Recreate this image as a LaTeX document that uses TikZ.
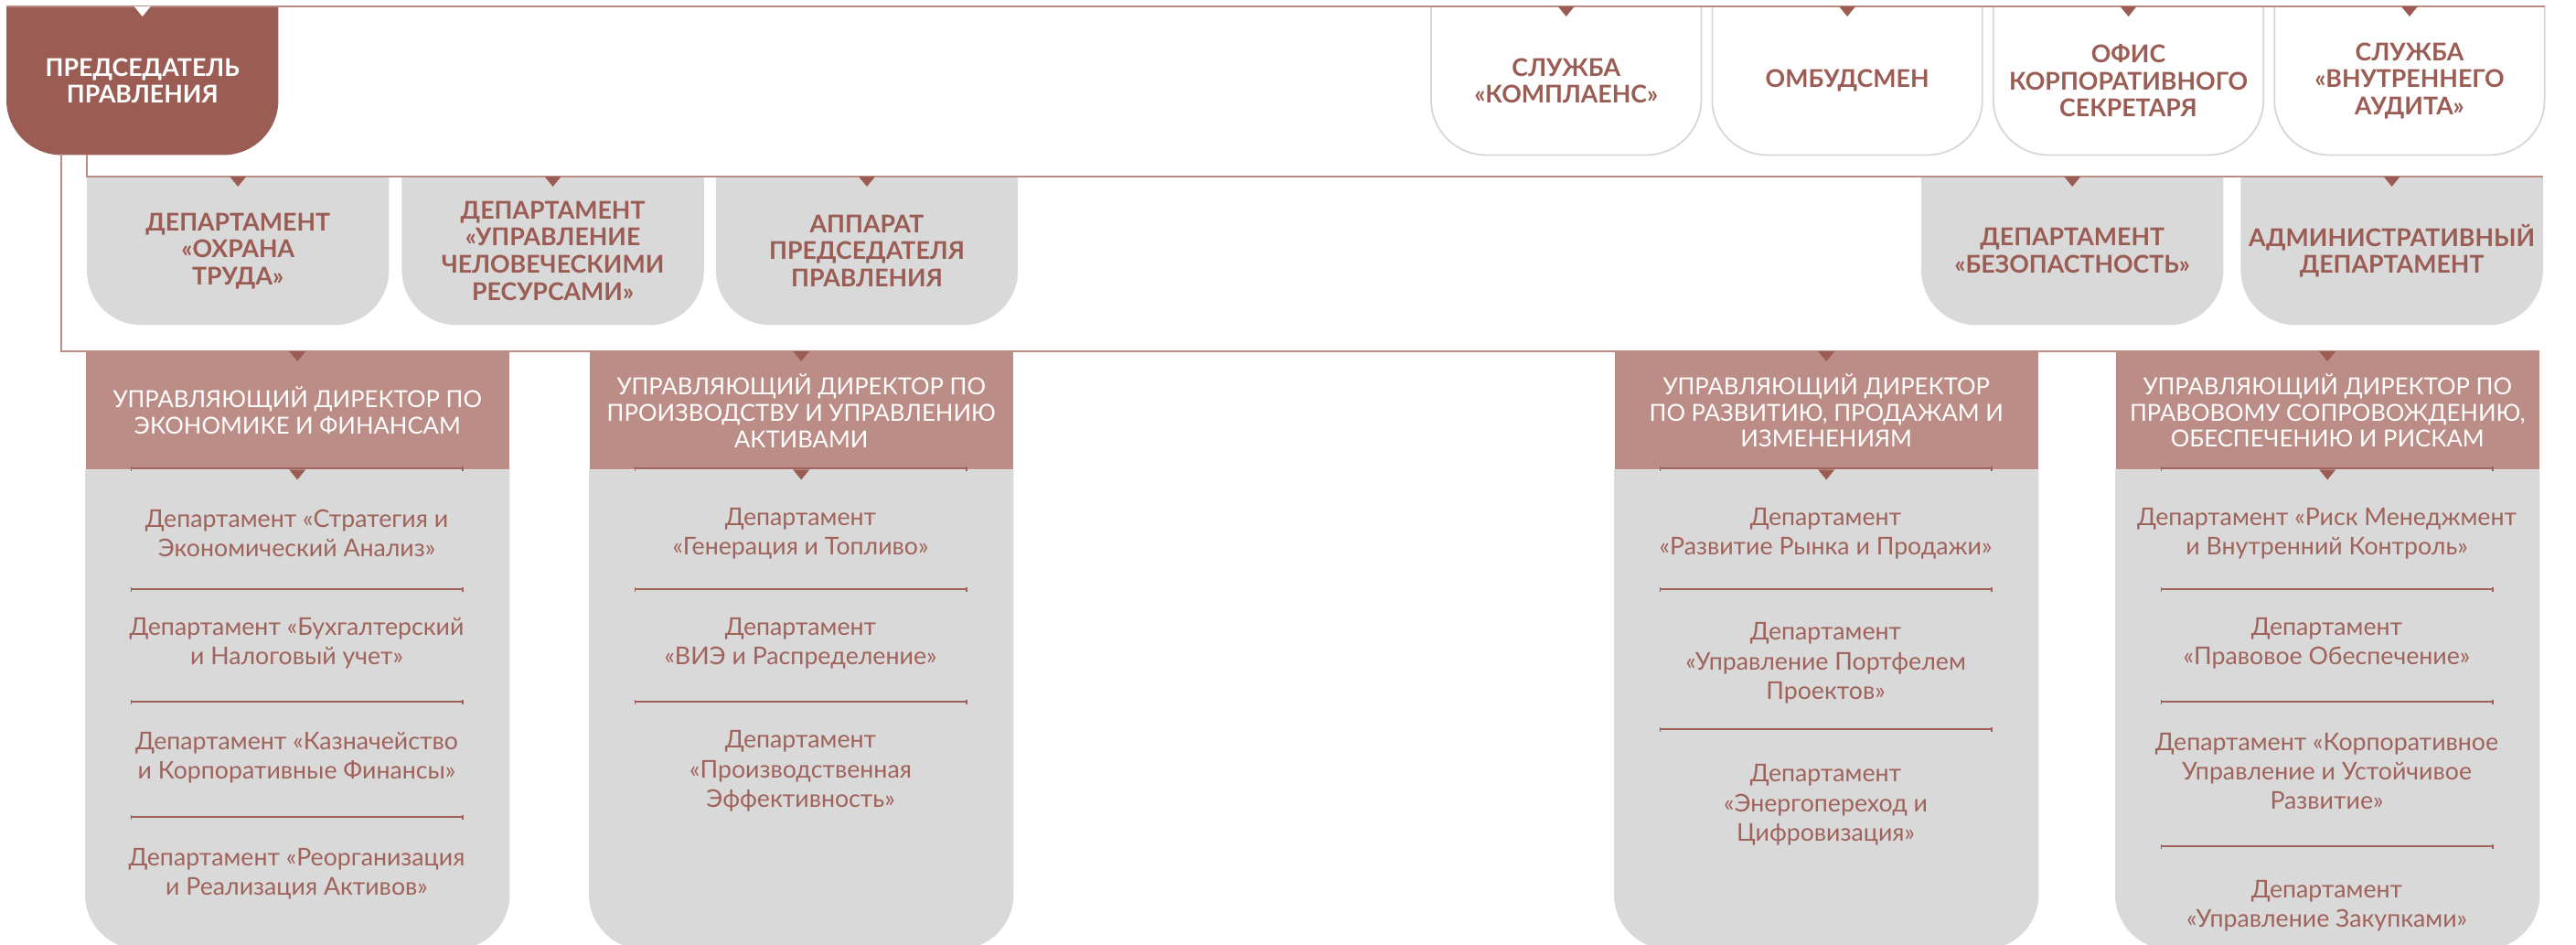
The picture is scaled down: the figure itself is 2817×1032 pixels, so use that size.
\documentclass[tikz,border=0pt]{standalone}
\usepackage{fontspec}
\setmainfont{Lato}
\usepackage{tikz}
\usetikzlibrary{arrows.meta,positioning,calc}
\definecolor{chairred}{HTML}{9B5C54}
\definecolor{rosehead}{HTML}{BC8C86}
\definecolor{roseline}{HTML}{BC8C86}
\definecolor{lightgrey}{HTML}{D9D9D9}
\definecolor{boxgrey}{HTML}{D6D6D6}
\definecolor{textred}{HTML}{A0635B}
\pgfdeclarelayer{bg}
\pgfsetlayers{bg,main}
\newcommand{\headfont}{\fontsize{7.6}{8.4}\selectfont\bfseries}
\newcommand{\mdfont}{\fontsize{7.3}{8.2}\selectfont}
\newcommand{\bodyfont}{\fontsize{7.6}{9.2}\selectfont}
% square top, round bottom corners
\newcommand{\cupbox}[3]{%
  \path[fill=#2,draw=#3,line width=0.5pt] (#1.north west) -- (#1.north east)
    -- ([yshift=6mm]#1.south east) arc[start angle=0,end angle=-90,radius=6mm]
    -- ([xshift=6mm]#1.south west) arc[start angle=-90,end angle=-180,radius=6mm] -- cycle;}
% small triangle hanging from the top edge
\newcommand{\notch}[2]{%
  \fill[#2] ([xshift=-0.9mm]#1.north) -- ([xshift=0.9mm]#1.north) -- ([yshift=-1.1mm]#1.north) -- cycle;}

\begin{document}
\begin{tikzpicture}[x=0.1mm,y=-0.1mm,>={Bar[width=0.5mm,line width=0.3pt]},
  chairbox/.style={anchor=north west,minimum width=29.6mm,minimum height=16.1mm,inner sep=0pt,align=center,text=white,font=\headfont},
  unitbox/.style={anchor=north west,minimum width=29.4mm,minimum height=16.1mm,inner sep=0pt,align=center,text=chairred,font=\headfont},
  deptbox/.style={unitbox,minimum width=32.9mm},
  mdhead/.style={anchor=north west,minimum width=46.3mm,minimum height=12.8mm,inner sep=0pt,align=center,fill=rosehead,text=white,font=\mdfont},
  mdbody/.style={minimum width=46.3mm,minimum height=52.3mm,inner sep=0pt},
  depttext/.style={align=center,text=textred,font=\bodyfont,inner sep=1pt},
  frameline/.style={draw=roseline,line width=0.6pt},
  sepline/.style={draw=textred,line width=0.45pt,<->}]
  \useasboundingbox (0,0) rectangle (2817,1032);

  % chairman
  \node[chairbox] (chair) at (7,7) {ПРЕДСЕДАТЕЛЬ\\ПРАВЛЕНИЯ};

  % units under the chairman
  \node[unitbox] (comp) at (1565,7) {СЛУЖБА\\«КОМПЛАЕНС»};
  \node[unitbox,right=1.2mm of comp] (omb) {ОМБУДСМЕН};
  \node[unitbox,right=1.2mm of omb] (secr) {ОФИС\\КОРПОРАТИВНОГО\\СЕКРЕТАРЯ};
  \node[unitbox,right=1.2mm of secr] (audit) {СЛУЖБА\\«ВНУТРЕННЕГО\\АУДИТА»};

  % departments
  \node[deptbox] (ohr) at (95,193) {ДЕПАРТАМЕНТ\\«ОХРАНА\\ТРУДА»};
  \node[deptbox,right=1.4mm of ohr] (hr) {ДЕПАРТАМЕНТ\\«УПРАВЛЕНИЕ\\ЧЕЛОВЕЧЕСКИМИ\\РЕСУРСАМИ»};
  \node[deptbox,right=1.3mm of hr] (app) {АППАРАТ\\ПРЕДСЕДАТЕЛЯ\\ПРАВЛЕНИЯ};
  \node[deptbox] (sec) at (2101,193) {ДЕПАРТАМЕНТ\\«БЕЗОПАСТНОСТЬ»};
  \node[deptbox,right=1.9mm of sec] (adm) {АДМИНИСТРАТИВНЫЙ\\ДЕПАРТАМЕНТ};

  % managing directors
  \node[mdhead] (md1) at (93,384) {УПРАВЛЯЮЩИЙ ДИРЕКТОР ПО\\ЭКОНОМИКЕ И ФИНАНСАМ};
  \node[mdhead] (md2) at (644,384) {УПРАВЛЯЮЩИЙ ДИРЕКТОР ПО\\ПРОИЗВОДСТВУ И УПРАВЛЕНИЮ\\АКТИВАМИ};
  \node[mdhead] (md3) at (1765,384) {УПРАВЛЯЮЩИЙ ДИРЕКТОР\\ПО РАЗВИТИЮ, ПРОДАЖАМ И\\ИЗМЕНЕНИЯМ};
  \node[mdhead] (md4) at (2313,384) {УПРАВЛЯЮЩИЙ ДИРЕКТОР ПО\\ПРАВОВОМУ СОПРОВОЖДЕНИЮ,\\ОБЕСПЕЧЕНИЮ И РИСКАМ};
  \foreach \m in {md1,md2,md3,md4}{\node[mdbody,below=0pt of \m] (\m b) {};}

  % their departments
  \node[depttext] (eco1) at (324.5,583) {Департамент «Стратегия и\\Экономический Анализ»};
  \node[depttext] (eco2) at (324.5,703) {Департамент «Бухгалтерский\\и Налоговый учет»};
  \node[depttext] (eco3) at (324.5,828) {Департамент «Казначейство\\и Корпоративные Финансы»};
  \node[depttext] (eco4) at (324.5,955) {Департамент «Реорганизация\\и Реализация Активов»};
  \node[depttext] (prod1) at (875.5,583) {Департамент\\«Генерация и Топливо»};
  \node[depttext] (prod2) at (875.5,703) {Департамент\\«ВИЭ и Распределение»};
  \node[depttext] (prod3) at (875.5,843) {Департамент\\«Производственная\\Эффективность»};
  \node[depttext] (dev1) at (1996.5,583) {Департамент\\«Развитие Рынка и Продажи»};
  \node[depttext] (dev2) at (1996.5,725) {Департамент\\«Управление Портфелем\\Проектов»};
  \node[depttext] (dev3) at (1996.5,880) {Департамент\\«Энергопереход и\\Цифровизация»};
  \node[depttext] (law1) at (2544.5,583) {Департамент «Риск Менеджмент\\и Внутренний Контроль»};
  \node[depttext] (law2) at (2544.5,703) {Департамент\\«Правовое Обеспечение»};
  \node[depttext] (law3) at (2544.5,843) {Департамент «Корпоративное\\Управление и Устойчивое\\Развитие»};
  \node[depttext] (law4) at (2544.5,990) {Департамент\\«Управление Закупками»};

  % shapes behind the texts
  \begin{pgfonlayer}{bg}
    \cupbox{chair}{chairred}{none}
    \foreach \n in {comp,omb,secr,audit}{\cupbox{\n}{white}{boxgrey}}
    \foreach \n in {ohr,hr,app,sec,adm,md1b,md2b,md3b,md4b}{\cupbox{\n}{lightgrey}{none}}
  \end{pgfonlayer}

  % frame lines
  \coordinate (outer) at (67,168);
  \draw[frameline] (chair.north west) -- (audit.north east);
  \draw[frameline] (chair.south -| ohr.west) -- (ohr.north west) -- (adm.north east);
  \draw[frameline] (outer) -- (outer |- md1.north) -- (md4.north east);

  % separators
  \foreach \cx/\sy in {324.5/512,324.5/644,324.5/767,324.5/893,875.5/512,875.5/644,875.5/767,
    1996.5/512,1996.5/644,1996.5/797,2544.5/512,2544.5/644,2544.5/767,2544.5/925}
    \draw[sepline] (\cx-182,\sy) -- (\cx+182,\sy);

  % triangles
  \notch{chair}{white}
  \foreach \n in {comp,omb,secr,audit,ohr,hr,app,sec,adm,md1,md2,md3,md4,md1b,md2b,md3b,md4b}{\notch{\n}{chairred}}
\end{tikzpicture}
\end{document}
